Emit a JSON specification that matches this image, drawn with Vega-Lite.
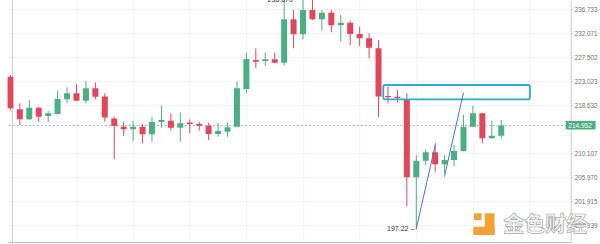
{
  "$schema": "https://vega.github.io/schema/vega-lite/v6.json",
  "width": 563.4,
  "height": 242,
  "autosize": {"type": "none"},
  "padding": {"left": 7.3, "top": 0, "right": 29.3, "bottom": 2},
  "background": "#ffffff",
  "config": {
    "view": {"stroke": null},
    "axis": {"labelFont": "Liberation Sans", "gridColor": "#f1f1f1", "grid": true, "title": null},
    "axisY": {"labelFontSize": 6.3, "labelColor": "#6e6e6e", "tickSize": 2, "tickColor": "#cccccc", "domainColor": "#cccccc", "labelPadding": 1.5, "labelOverlap": false, "labelFlush": false},
    "axisX": {"labels": false, "ticks": false, "domainColor": "#c0c0c0"}
  },
  "datasets": {
    "candles": [
      {"i": -1, "o": 223.825, "h": 224.14, "l": 217.735, "c": 218.04},
      {"i": 0, "o": 217.861, "h": 218.943, "l": 215.045, "c": 216.068},
      {"i": 1, "o": 216.068, "h": 219.547, "l": 215.942, "c": 218.148},
      {"i": 2, "o": 218.148, "h": 218.327, "l": 215.637, "c": 216.534},
      {"i": 3, "o": 216.659, "h": 217.556, "l": 215.53, "c": 217.144},
      {"i": 4, "o": 217.018, "h": 221.248, "l": 216.928, "c": 219.73},
      {"i": 5, "o": 219.675, "h": 221.87, "l": 218.943, "c": 220.773},
      {"i": 6, "o": 220.773, "h": 222.474, "l": 219.364, "c": 219.419},
      {"i": 7, "o": 219.419, "h": 223.079, "l": 218.943, "c": 221.687},
      {"i": 8, "o": 221.687, "h": 222.785, "l": 219.675, "c": 220.151},
      {"i": 9, "o": 220.187, "h": 220.773, "l": 215.637, "c": 216.39},
      {"i": 10, "o": 216.211, "h": 216.534, "l": 209.021, "c": 214.866},
      {"i": 11, "o": 214.741, "h": 215.637, "l": 213.097, "c": 214.275},
      {"i": 12, "o": 214.275, "h": 215.816, "l": 212.217, "c": 214.741},
      {"i": 13, "o": 214.741, "h": 215.225, "l": 211.813, "c": 213.396},
      {"i": 14, "o": 213.396, "h": 216.534, "l": 212.094, "c": 215.583},
      {"i": 15, "o": 215.583, "h": 218.506, "l": 214.561, "c": 215.942},
      {"i": 16, "o": 215.816, "h": 217.018, "l": 214.029, "c": 214.561},
      {"i": 17, "o": 214.561, "h": 217.323, "l": 212.094, "c": 215.35},
      {"i": 18, "o": 215.494, "h": 216.032, "l": 213.572, "c": 215.225},
      {"i": 19, "o": 215.225, "h": 215.637, "l": 214.029, "c": 214.92},
      {"i": 20, "o": 214.92, "h": 215.458, "l": 212.393, "c": 213.449},
      {"i": 21, "o": 213.449, "h": 215.458, "l": 212.974, "c": 213.976},
      {"i": 22, "o": 213.853, "h": 215.458, "l": 212.974, "c": 214.633},
      {"i": 23, "o": 214.741, "h": 222.932, "l": 214.687, "c": 221.687},
      {"i": 24, "o": 221.559, "h": 228.321, "l": 220.883, "c": 227.129},
      {"i": 25, "o": 226.942, "h": 229.158, "l": 225.393, "c": 226.625},
      {"i": 26, "o": 226.755, "h": 228.321, "l": 225.822, "c": 227.073},
      {"i": 27, "o": 227.073, "h": 228.321, "l": 226.326, "c": 226.438},
      {"i": 28, "o": 226.438, "h": 238.87, "l": 225.878, "c": 234.732},
      {"i": 29, "o": 234.732, "h": 236.539, "l": 229.158, "c": 231.824},
      {"i": 30, "o": 231.824, "h": 238.68, "l": 230.872, "c": 236.539},
      {"i": 31, "o": 236.539, "h": 238.6, "l": 234.596, "c": 234.732},
      {"i": 32, "o": 234.732, "h": 236.539, "l": 232.518, "c": 236.014},
      {"i": 33, "o": 236.014, "h": 236.539, "l": 232.207, "c": 233.567},
      {"i": 34, "o": 233.567, "h": 235.567, "l": 230.415, "c": 234.072},
      {"i": 35, "o": 234.072, "h": 234.46, "l": 229.786, "c": 231.881},
      {"i": 36, "o": 231.881, "h": 233.295, "l": 229.596, "c": 231.062},
      {"i": 37, "o": 231.062, "h": 232.014, "l": 227.259, "c": 229.272},
      {"i": 38, "o": 229.158, "h": 230.738, "l": 216.426, "c": 220.187},
      {"i": 39, "o": 220.279, "h": 222.017, "l": 218.943, "c": 220.041},
      {"i": 40, "o": 220.151, "h": 221.376, "l": 219.053, "c": 219.913},
      {"i": 41, "o": 219.675, "h": 220.773, "l": 201.087, "c": 205.919},
      {"i": 42, "o": 205.919, "h": 209.762, "l": 197.22, "c": 208.78},
      {"i": 43, "o": 208.78, "h": 210.758, "l": 208.038, "c": 210.23},
      {"i": 44, "o": 210.23, "h": 211.514, "l": 206.884, "c": 208.159},
      {"i": 45, "o": 208.159, "h": 209.762, "l": 206.608, "c": 208.9},
      {"i": 46, "o": 208.9, "h": 211.514, "l": 207.866, "c": 210.459},
      {"i": 47, "o": 210.459, "h": 216.839, "l": 210.371, "c": 214.741},
      {"i": 48, "o": 214.741, "h": 218.453, "l": 214.687, "c": 217.144},
      {"i": 49, "o": 217.144, "h": 217.197, "l": 211.813, "c": 212.692},
      {"i": 50, "o": 212.692, "h": 215.816, "l": 212.657, "c": 213.15},
      {"i": 51, "o": 213.15, "h": 215.942, "l": 212.692, "c": 214.952}
    ],
    "trend": [
      {"x1": 42, "y1": 197.35, "x2": 44.05, "y2": 211.81},
      {"x1": 44.98, "y1": 206.03, "x2": 47.0, "y2": 220.88}
    ],
    "box": [{"x1": 38.5, "x2": 54.04, "y1": 222.29, "y2": 219.67}],
    "logo": [
      {"x1": 48.1, "x2": 48.91, "y1": 199.877, "y2": 198.767},
      {"x1": 49.25, "x2": 50.29, "y1": 199.877, "y2": 196.314},
      {"x1": 48.04, "x2": 50.29, "y1": 197.663, "y2": 196.314}
    ]
  },
  "layer": [
    {
      "data": {"values": [{"p": 214.952, "k": -0.8}]},
      "mark": {"type": "rule", "color": "#9a9a9a", "strokeWidth": 0.8, "strokeDash": [2, 2]},
      "encoding": {
        "y": {"field": "p", "type": "quantitative", "scale": {"type": "log", "domain": [195.181, 238.505], "nice": false, "zero": false},
          "axis": {"orient": "right", "values": [236.733, 232.071, 227.502, 223.023, 218.632, 210.107, 205.97, 201.915, 197.939], "format": ".3f"}}
      }
    },
    {
      "data": {"values": [{"k": -0.8}]},
      "mark": {"type": "rule", "color": "#c8c8c8", "strokeWidth": 1},
      "encoding": {
        "x": {"field": "k", "type": "quantitative", "scale": {"domain": [-0.8, 57.83], "nice": false, "zero": false},
          "axis": {"orient": "bottom", "values": [6, 12, 18, 24, 30, 36, 42, 48, 54]}}
      }
    },
    {
      "data": {"name": "candles"},
      "mark": {"type": "rule", "strokeWidth": 1, "clip": true},
      "encoding": {
        "x": {"field": "i", "type": "quantitative", "scale": {"domain": [-0.8, 57.83], "nice": false, "zero": false}, "axis": {"orient": "bottom", "values": [6, 12, 18, 24, 30, 36, 42, 48, 54]}},
        "y": {"field": "l", "type": "quantitative", "scale": {"type": "log", "domain": [195.181, 238.505], "nice": false, "zero": false}, "axis": {"orient": "right", "values": [236.733, 232.071, 227.502, 223.023, 218.632, 210.107, 205.97, 201.915, 197.939], "format": ".3f"}},
        "y2": {"field": "h"},
        "color": {"condition": {"test": "datum.c < datum.o", "value": "#e0475a"}, "value": "#4caf83"}
      }
    },
    {
      "data": {"name": "candles"},
      "mark": {"type": "bar", "size": 6, "clip": true},
      "encoding": {
        "x": {"field": "i", "type": "quantitative", "scale": {"domain": [-0.8, 57.83], "nice": false, "zero": false}, "axis": {"orient": "bottom", "values": [6, 12, 18, 24, 30, 36, 42, 48, 54]}},
        "y": {"field": "o", "type": "quantitative", "scale": {"type": "log", "domain": [195.181, 238.505], "nice": false, "zero": false}, "axis": {"orient": "right", "values": [236.733, 232.071, 227.502, 223.023, 218.632, 210.107, 205.97, 201.915, 197.939], "format": ".3f"}},
        "y2": {"field": "c"},
        "color": {"condition": {"test": "datum.c < datum.o", "value": "#e0475a"}, "value": "#4caf83"}
      }
    },
    {
      "data": {"name": "box"},
      "mark": {"type": "rect", "fillOpacity": 0, "stroke": "#2ba8de", "strokeWidth": 1.8, "cornerRadius": 2},
      "encoding": {
        "x": {"field": "x1", "type": "quantitative", "scale": {"domain": [-0.8, 57.83], "nice": false, "zero": false}, "axis": {"orient": "bottom", "values": [6, 12, 18, 24, 30, 36, 42, 48, 54]}},
        "x2": {"field": "x2"},
        "y": {"field": "y1", "type": "quantitative", "scale": {"type": "log", "domain": [195.181, 238.505], "nice": false, "zero": false}, "axis": {"orient": "right", "values": [236.733, 232.071, 227.502, 223.023, 218.632, 210.107, 205.97, 201.915, 197.939], "format": ".3f"}},
        "y2": {"field": "y2"}
      }
    },
    {
      "data": {"name": "trend"},
      "mark": {"type": "rule", "color": "#4f6fd8", "strokeWidth": 1},
      "encoding": {
        "x": {"field": "x1", "type": "quantitative", "scale": {"domain": [-0.8, 57.83], "nice": false, "zero": false}, "axis": {"orient": "bottom", "values": [6, 12, 18, 24, 30, 36, 42, 48, 54]}},
        "x2": {"field": "x2"},
        "y": {"field": "y1", "type": "quantitative", "scale": {"type": "log", "domain": [195.181, 238.505], "nice": false, "zero": false}, "axis": {"orient": "right", "values": [236.733, 232.071, 227.502, 223.023, 218.632, 210.107, 205.97, 201.915, 197.939], "format": ".3f"}},
        "y2": {"field": "y2"}
      }
    },
    {
      "data": {"values": [{"x": 41.79, "y": 197.22, "t": "197.22 –"}, {"x": 28.93, "y": 238.6, "t": "238.870"}]},
      "mark": {"type": "text", "align": "right", "baseline": "middle", "fontSize": 7, "font": "Liberation Sans", "color": "#333333"},
      "encoding": {
        "x": {"field": "x", "type": "quantitative", "scale": {"domain": [-0.8, 57.83], "nice": false, "zero": false}, "axis": {"orient": "bottom", "values": [6, 12, 18, 24, 30, 36, 42, 48, 54]}},
        "y": {"field": "y", "type": "quantitative", "scale": {"type": "log", "domain": [195.181, 238.505], "nice": false, "zero": false}, "axis": {"orient": "right", "values": [236.733, 232.071, 227.502, 223.023, 218.632, 210.107, 205.97, 201.915, 197.939], "format": ".3f"}},
        "text": {"field": "t"}
      }
    },
    {
      "data": {"values": [{"x1": 57.83, "x2": 61, "y1": 215.763, "y2": 214.24}]},
      "mark": {"type": "rect", "color": "#4caf83"},
      "encoding": {
        "x": {"field": "x1", "type": "quantitative", "scale": {"domain": [-0.8, 57.83], "nice": false, "zero": false}, "axis": {"orient": "bottom", "values": [6, 12, 18, 24, 30, 36, 42, 48, 54]}},
        "x2": {"field": "x2"},
        "y": {"field": "y1", "type": "quantitative", "scale": {"type": "log", "domain": [195.181, 238.505], "nice": false, "zero": false}, "axis": {"orient": "right", "values": [236.733, 232.071, 227.502, 223.023, 218.632, 210.107, 205.97, 201.915, 197.939], "format": ".3f"}},
        "y2": {"field": "y2"}
      }
    },
    {
      "data": {"values": [{"x": 59.35, "y": 214.952, "t": "214.952"}]},
      "mark": {"type": "text", "align": "center", "baseline": "middle", "fontSize": 6.5, "font": "Liberation Sans", "color": "#ffffff"},
      "encoding": {
        "x": {"field": "x", "type": "quantitative", "scale": {"domain": [-0.8, 57.83], "nice": false, "zero": false}, "axis": {"orient": "bottom", "values": [6, 12, 18, 24, 30, 36, 42, 48, 54]}},
        "y": {"field": "y", "type": "quantitative", "scale": {"type": "log", "domain": [195.181, 238.505], "nice": false, "zero": false}, "axis": {"orient": "right", "values": [236.733, 232.071, 227.502, 223.023, 218.632, 210.107, 205.97, 201.915, 197.939], "format": ".3f"}},
        "text": {"field": "t"}
      }
    },
    {
      "data": {"name": "logo"},
      "mark": {"type": "rect", "color": "#f0a234"},
      "encoding": {
        "x": {"field": "x1", "type": "quantitative", "scale": {"domain": [-0.8, 57.83], "nice": false, "zero": false}, "axis": {"orient": "bottom", "values": [6, 12, 18, 24, 30, 36, 42, 48, 54]}},
        "x2": {"field": "x2"},
        "y": {"field": "y1", "type": "quantitative", "scale": {"type": "log", "domain": [195.181, 238.505], "nice": false, "zero": false}, "axis": {"orient": "right", "values": [236.733, 232.071, 227.502, 223.023, 218.632, 210.107, 205.97, 201.915, 197.939], "format": ".3f"}},
        "y2": {"field": "y2"}
      }
    },
    {
      "data": {"values": [{"x": 55.67, "y": 197.94, "t": "金色财经"}]},
      "mark": {"type": "text", "align": "center", "baseline": "middle", "fontSize": 21, "font": "Noto Sans CJK SC", "fontWeight": "bold", "fill": "#f2f2f2", "fillOpacity": 0.6, "stroke": "#a8a8a8", "strokeWidth": 0.7},
      "encoding": {
        "x": {"field": "x", "type": "quantitative", "scale": {"domain": [-0.8, 57.83], "nice": false, "zero": false}, "axis": {"orient": "bottom", "values": [6, 12, 18, 24, 30, 36, 42, 48, 54]}},
        "y": {"field": "y", "type": "quantitative", "scale": {"type": "log", "domain": [195.181, 238.505], "nice": false, "zero": false}, "axis": {"orient": "right", "values": [236.733, 232.071, 227.502, 223.023, 218.632, 210.107, 205.97, 201.915, 197.939], "format": ".3f"}},
        "text": {"field": "t"}
      }
    }
  ]
}
